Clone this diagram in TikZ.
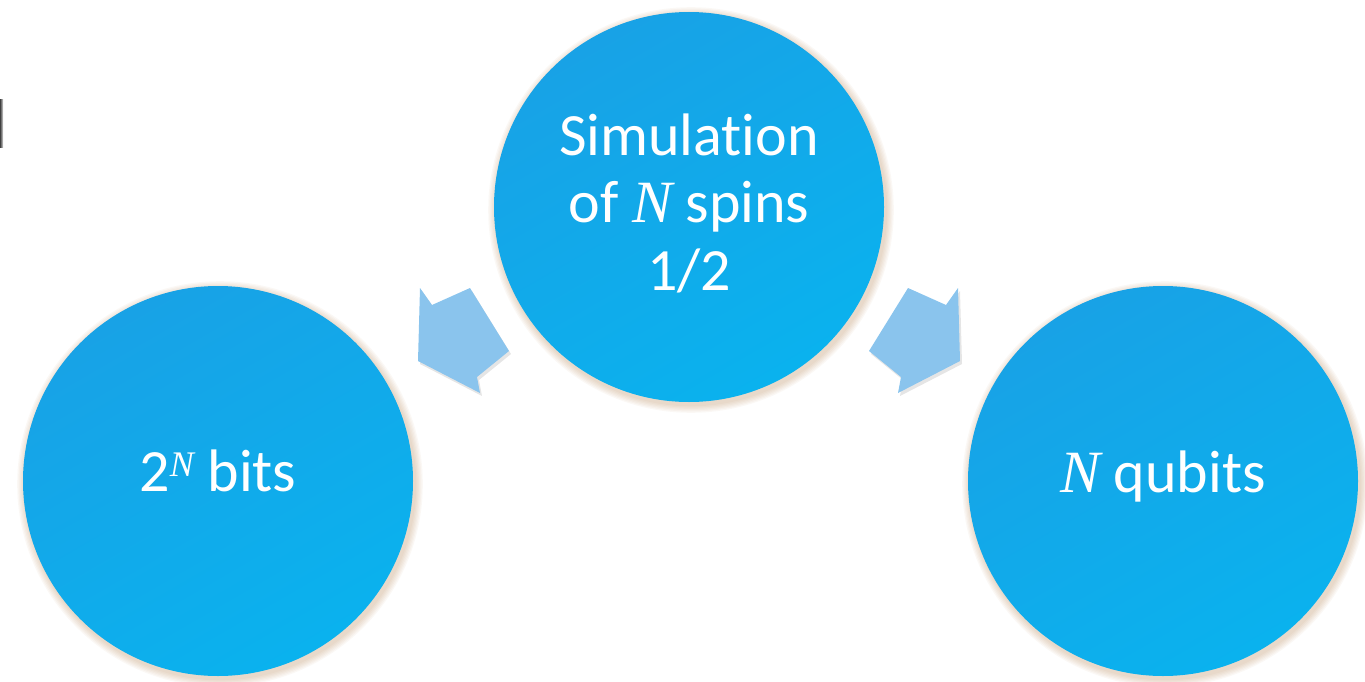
\documentclass[tikz,border=0pt]{standalone}
\usepackage{fontspec}
\setmainfont{Carlito}[Ligatures={NoCommon,NoRequired,NoContextual}]
\newfontfamily\mathserif{Liberation Serif}
\usetikzlibrary{calc}
\definecolor{circA}{RGB}{24,162,230}
\definecolor{circB}{RGB}{10,178,238}
\definecolor{arrowfill}{RGB}{138,196,237}
\definecolor{halo}{RGB}{170,115,60}
\newcommand{\Nv}{{\mathserif\itshape N}}
\tikzset{
  bubble/.style={circle, minimum size=390pt, inner sep=0pt,
    top color=circA, bottom color=circB, shading angle=30,
    text=white, font=\fontsize{60}{67.5}\selectfont},
  blockarrow/.style={fill=arrowfill},
  arrowshadow/.style={fill=black, opacity=0.10},
  halofill/.style={fill=halo, opacity=0.05}
}
\begin{document}
\begin{tikzpicture}[x=1pt, y=-1pt]
\useasboundingbox (0,0) rectangle (1365,682);
% cut-off shape at the left edge
\shade[left color=black!75, right color=black!15] (0,100) rectangle (3,148);
% soft halos behind the circles
\foreach \cx/\cy in {689/207, 218/481, 1163/481}{
  \foreach \k in {1,...,6}{
    \fill[halofill] (\cx+2,\cy+3) circle[radius={195+\k*1.3}];
  }
}
% arrow shadows
\fill[arrowshadow] (422,291) -- (434,308) -- (472,291) -- (511,354) -- (479,380) -- (482,396) -- (420,364) -- cycle;
\fill[arrowshadow] (960,291) -- (948,308) -- (910,291) -- (871,354) -- (903,380) -- (900,396) -- (962,364) -- cycle;
% block arrows
\fill[blockarrow] (420,288) -- (432,305) -- (470,288) -- (509,351) -- (477,377) -- (480,393) -- (418,361) -- cycle;
\fill[blockarrow] (958,288) -- (946,305) -- (908,288) -- (869,351) -- (901,377) -- (898,393) -- (960,361) -- cycle;
% circles
\node[bubble] (sim) at (689,207)
  {\raisebox{52pt}[0pt][0pt]{\vtop{\halign{\hfil#\hfil\cr Simulation\cr of \Nv{} spins\cr 1/2\cr}}}};
\node[bubble] (bits) at (218,481)
  {\raisebox{-10pt}[0pt][0pt]{2\raisebox{15pt}{\fontsize{36}{36}\selectfont\Nv}\ bits}};
\node[bubble] (qubits) at (1163,481)
  {\raisebox{-11pt}[0pt][0pt]{\Nv{} qubits}};
\end{tikzpicture}
\end{document}
